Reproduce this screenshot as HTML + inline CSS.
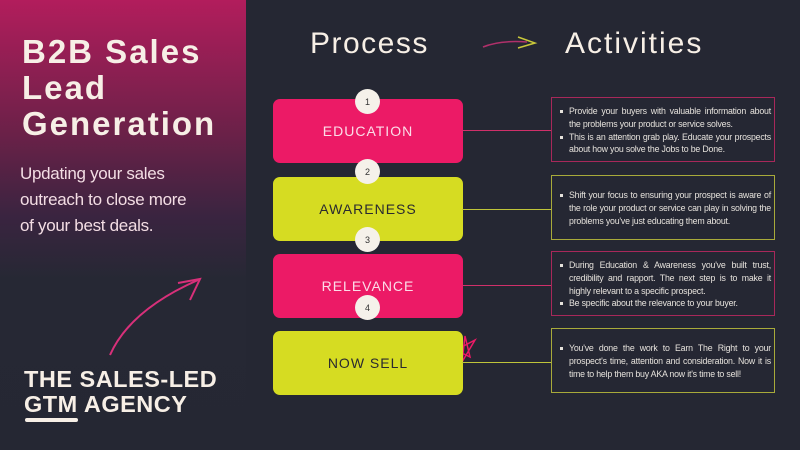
<!DOCTYPE html>
<html><head><style>
*{margin:0;padding:0;box-sizing:border-box}
body{width:800px;height:450px;background:#252733;position:relative;overflow:hidden;font-family:"Liberation Sans",sans-serif}
.left{position:absolute;left:0;top:0;width:246px;height:450px;background:linear-gradient(180deg,#b21d5c 0%,#6a2148 30%,#3a2440 48%,#262834 62%,#252733 100%)}
.t{position:absolute;color:#f7efe6;white-space:nowrap}
.pb{position:absolute;left:273px;width:190px;height:64px;border-radius:7px;display:flex;align-items:center;justify-content:center;font-size:14px;letter-spacing:1px}
.pink{background:#ec1a66;color:#fbdde8}
.lime{background:#d6dc22;color:#2a2a30}
.c{position:absolute;left:355px;width:25px;height:25px;border-radius:50%;background:#f5f1ea;color:#333;font-size:9px;display:flex;align-items:center;justify-content:center}
.rb{position:absolute;left:551px;width:224px;border:1px solid;color:#e6e2dc;font-size:8.8px;line-height:12.8px;padding:5px 3px 3px 8px;text-align:justify;display:flex;flex-direction:column;justify-content:center;letter-spacing:-0.2px}
.rb div{padding-left:9px;position:relative}
.rb div:before{content:"";position:absolute;left:0;top:5px;width:3px;height:3px;background:#e6e2dc}
.ln{position:absolute;left:462px;width:89px;height:1px}
</style></head><body>
<div class="left"></div>
<div class="t" style="left:22px;top:34px;font-size:33px;font-weight:bold;line-height:36px;letter-spacing:2px">B2B Sales<br>Lead<br>Generation</div>
<div class="t" style="left:20px;top:161px;font-size:17px;line-height:26px;color:#f3dde4;letter-spacing:-0.3px">Updating your sales<br>outreach to close more<br>of your best deals.</div>
<svg style="position:absolute;left:0;top:0" width="800" height="450">
<path d="M110 355 Q130 310 198 280" stroke="#d8307a" stroke-width="2" fill="none"/>
<path d="M178 283 L200 279 L190 300" stroke="#d8307a" stroke-width="2" fill="none"/>
<path d="M483 47 Q500 40 527 42" stroke="#b0306a" stroke-width="1.5" fill="none"/>
<path d="M518 37 L535 43 L518 48" stroke="#c9c83a" stroke-width="1.5" fill="none"/>
<path d="M456 350 L475 340 L462 362 L465 336 L470 357 Z" stroke="#ec1a66" stroke-width="1.5" fill="none"/>
</svg>
<div class="t" style="left:24px;top:367px;font-size:23.5px;font-weight:bold;line-height:25px;letter-spacing:0.5px">THE SALES-LED<br>GTM AGENCY</div>
<div style="position:absolute;left:25px;top:418px;width:53px;height:4px;border-radius:2px;background:#f7efe6"></div>
<div class="t" style="left:310px;top:27px;font-size:30px;letter-spacing:1.5px">Process</div>
<div class="t" style="left:565px;top:27px;font-size:30px;letter-spacing:2px">Activities</div>
<div class="pb pink" style="top:99px">EDUCATION</div>
<div class="pb lime" style="top:177px">AWARENESS</div>
<div class="pb pink" style="top:254px">RELEVANCE</div>
<div class="pb lime" style="top:331px">NOW SELL</div>
<div class="c" style="top:89px">1</div>
<div class="c" style="top:159px">2</div>
<div class="c" style="top:227px">3</div>
<div class="c" style="top:295px">4</div>
<div class="ln" style="top:130px;background:#d0306a"></div>
<div class="ln" style="top:209px;background:#bfc43a"></div>
<div class="ln" style="top:285px;background:#d0306a"></div>
<div class="ln" style="top:362px;background:#bfc43a"></div>
<div class="rb" style="top:97px;height:65px;border-color:#a8285a"><div>Provide your buyers with valuable information about the problems your product or service solves.</div><div>This is an attention grab play. Educate your prospects about how you solve the Jobs to be Done.</div></div>
<div class="rb" style="top:175px;height:65px;border-color:#a8aa3a"><div>Shift your focus to ensuring your prospect is aware of the role your product or service can play in solving the problems you've just educating them about.</div></div>
<div class="rb" style="top:251px;height:65px;border-color:#a8285a"><div>During Education &amp; Awareness you've built trust, credibility and rapport. The next step is to make it highly relevant to a specific prospect.</div><div>Be specific about the relevance to your buyer.</div></div>
<div class="rb" style="top:328px;height:65px;border-color:#a8aa3a"><div>You've done the work to Earn The Right to your prospect's time, attention and consideration. Now it is time to help them buy AKA now it's time to sell!</div></div>
</body></html>
